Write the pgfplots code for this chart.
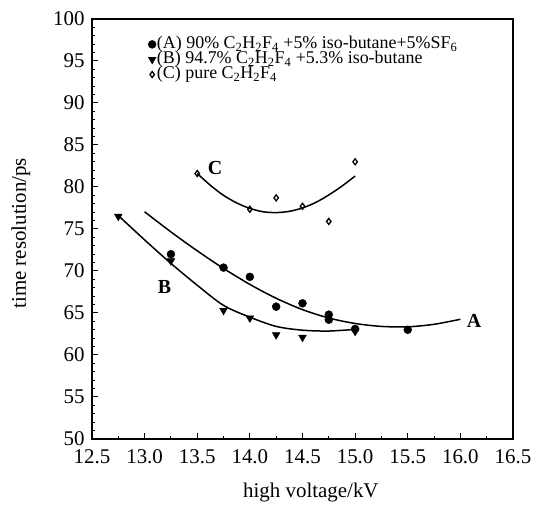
\documentclass[border=0pt]{standalone}
\usepackage{fontspec}
\setmainfont{Liberation Serif}
\usepackage{pgfplots}
\pgfplotsset{compat=1.18}

% measured points
\pgfplotstableread{
x y
13.25 72.0
13.75 70.4
14.00 69.3
14.25 65.75
14.50 66.15
14.75 64.8
14.75 64.2
15.00 63.1
15.50 63.0
}\dataA
\pgfplotstableread{
x y
12.75 76.5
13.25 71.2
13.75 65.3
14.00 64.4
14.25 62.4
14.50 62.1
15.00 62.8
}\dataB
\pgfplotstableread{
x y
13.50 81.6
14.00 77.35
14.25 78.7
14.50 77.7
14.75 75.9
15.00 83.0
}\dataC

\newcommand{\lgfont}{\fontsize{18}{18}\selectfont}

\begin{document}
\begin{tikzpicture}[x=1bp,y=1bp]
\begin{axis}[
  scale only axis, width=421bp, height=420bp,
  xmin=12.5, xmax=16.5, ymin=50, ymax=100,
  xtick={12.5,13,...,16.5}, ytick={50,55,...,100},
  minor x tick num=1, minor y tick num=4,
  xtick pos=bottom, ytick pos=left, tick align=inside,
  major tick length=6bp, minor tick length=3bp,
  axis line style={line width=1.6bp}, tick style={line width=1bp,black},
  xticklabel style={/pgf/number format/fixed,/pgf/number format/fixed zerofill,/pgf/number format/precision=1, yshift=-7bp},
  yticklabel style={xshift=-4bp},
  /pgf/number format/assume math mode=true,
  ticklabel style={font=\fontsize{21}{21}\selectfont},
  xlabel={high voltage/kV}, ylabel={time resolution/ps},
  every axis x label/.style={at={(rel axis cs:0.52,-0.128)}, anchor=center, font=\fontsize{21}{21}\selectfont},
  every axis y label/.style={at={(rel axis cs:-0.169,0.49)}, anchor=center, rotate=90, font=\fontsize{21}{21}\selectfont},
  legend cell align=left,
  legend style={at={(rel axis cs:0.133,0.958)}, anchor=north west, draw=none, fill=none,
    inner sep=0pt, row sep=0pt,
    nodes={inner sep=0.8bp, text height=11bp, text depth=2.5bp, font=\lgfont}},
  legend image code/.code={\draw[#1] plot coordinates {(0bp,0bp)};},
]
\addplot[only marks, mark=*, mark size=4bp, black] table {\dataA};
\addlegendentry{\lgfont(A) 90\% C\textsubscript{2}H\textsubscript{2}F\textsubscript{4} +5\% iso-butane+5\%SF\textsubscript{6}}
\addplot[only marks, mark=triangle*, mark size=4.5bp, mark options={rotate=180}, black] table {\dataB};
\addlegendentry{\lgfont(B) 94.7\% C\textsubscript{2}H\textsubscript{2}F\textsubscript{4} +5.3\% iso-butane}
\addplot[only marks, mark=diamond, mark size=3bp, mark options={line width=1.3bp}, black] table {\dataC};
\addlegendentry{\lgfont(C) pure C\textsubscript{2}H\textsubscript{2}F\textsubscript{4}}

% fitted curves
\addplot[forget plot, smooth, black, line width=1.5bp] coordinates {
(13.0,77.05) (13.25,74.65) (13.5,72.4) (13.75,70.3) (14.0,68.4) (14.25,66.75)
(14.5,65.4) (14.75,64.4) (15.0,63.75) (15.25,63.4) (15.5,63.35) (15.75,63.65) (16.0,64.25)};
\addplot[forget plot, smooth, black, line width=1.5bp] coordinates {
(12.75,76.6) (13.0,73.7) (13.25,70.9) (13.5,68.3) (13.75,65.9) (14.0,64.5)
(14.25,63.4) (14.5,62.95) (14.75,62.85) (15.0,63.05)};
\addplot[forget plot, smooth, black, line width=1.5bp] coordinates {
(13.5,81.6) (13.625,80.2) (13.75,79.0) (13.875,78.1) (14.0,77.45) (14.125,77.05)
(14.25,76.95) (14.375,77.1) (14.5,77.5) (14.625,78.15) (14.75,79.05) (14.875,80.1) (15.0,81.3)};

\node[font=\fontsize{20}{20}\selectfont\bfseries] at (axis cs:13.67,82.3) {C};
\node[font=\fontsize{20}{20}\selectfont\bfseries] at (axis cs:13.19,68.1) {B};
\node[font=\fontsize{20}{20}\selectfont\bfseries] at (axis cs:16.13,64.1) {A};

\coordinate (ll) at (rel axis cs:-0.2185,-0.1667);
\coordinate (ur) at (rel axis cs:1.0523,1.0452);
\end{axis}
\pgfresetboundingbox
\useasboundingbox (ll) rectangle (ur);
\end{tikzpicture}
\end{document}
